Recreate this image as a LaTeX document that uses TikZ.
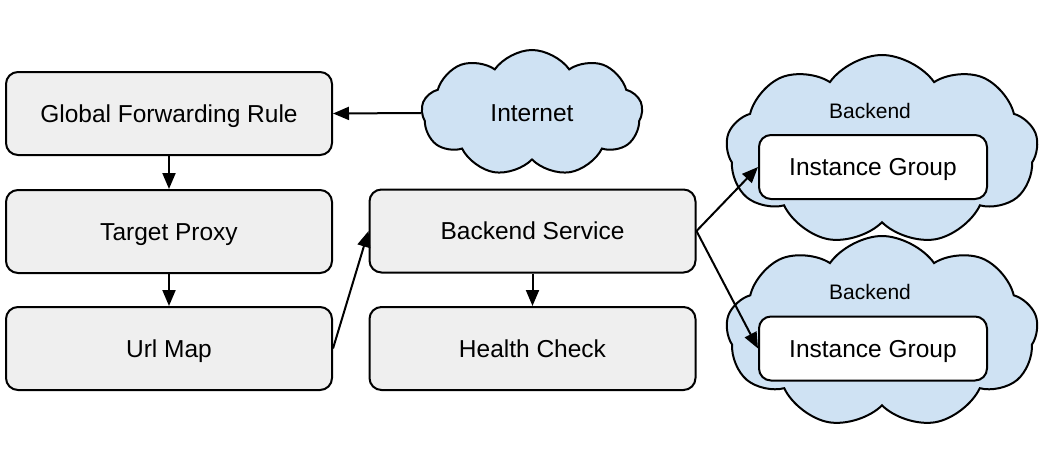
\documentclass[tikz,border=0pt]{standalone}
\usepackage{fontspec}
\setmainfont{Liberation Sans}
\usetikzlibrary{arrows.meta, shapes.symbols, positioning}
\definecolor{BoxGray}{HTML}{EFEFEF}
\definecolor{CloudBlue}{HTML}{CFE2F3}
\begin{document}
\begin{tikzpicture}[x=1pt, y=-1pt,
  box/.style={draw=black, fill=BoxGray, line width=2pt, rounded corners=12pt,
    minimum width=326pt, minimum height=83pt, text height=17.5pt, text depth=0pt,
    font=\fontsize{24.5pt}{28pt}\selectfont},
  group/.style={box, fill=white, minimum width=228pt, minimum height=64pt},
  sky/.style={cloud, cloud puffs=9, cloud puff arc=110, cloud ignores aspect, draw=black,
    fill=CloudBlue, line width=2pt, text height=17.5pt, text depth=0pt,
    font=\fontsize{24.5pt}{28pt}\selectfont},
  link/.style={-{Triangle[length=16pt,width=13pt]}, line width=2pt}]
  \useasboundingbox (0,0) rectangle (1042,466);
  % load balancer chain
  \foreach \n/\y/\t in {gfr/113.5/Global Forwarding Rule, proxy/231.5/Target Proxy, urlmap/348.5/Url Map}{
    \node[box] (\n) at (169,\y) {\t};
  }
  \node[box] (service) at (532.5,231) {Backend Service};
  \node[box] (health) at (532.5,348.5) {Health Check};
  % clouds
  \node[sky, minimum width=221pt, minimum height=126pt] (internet) at (532,113) {Internet};
  \foreach \n/\y/\h in {backA/150/190, backB/332/192}{
    \node[sky, minimum width=312pt, minimum height=\h pt] (\n) at (882,\y) {};
  }
  \node[font=\fontsize{21pt}{24pt}\selectfont] (labelA) at (870,111) {Backend};
  \node[font=\fontsize{21pt}{24pt}\selectfont] (labelB) at (870,292) {Backend};
  \node[group] (groupA) at (873,167) {Instance Group};
  \node[group] (groupB) at (873,348.5) {Instance Group};
  % arrows
  \draw[link] (internet.west) -- (gfr.east);
  \draw[link] (gfr) -- (proxy);
  \draw[link] (proxy) -- (urlmap);
  \draw[link] (urlmap.east) -- (service.west);
  \draw[link] (service) -- (health);
  \draw[link] (service.east) -- (groupA.west);
  \draw[link] (service.east) -- (groupB.west);
\end{tikzpicture}
\end{document}
